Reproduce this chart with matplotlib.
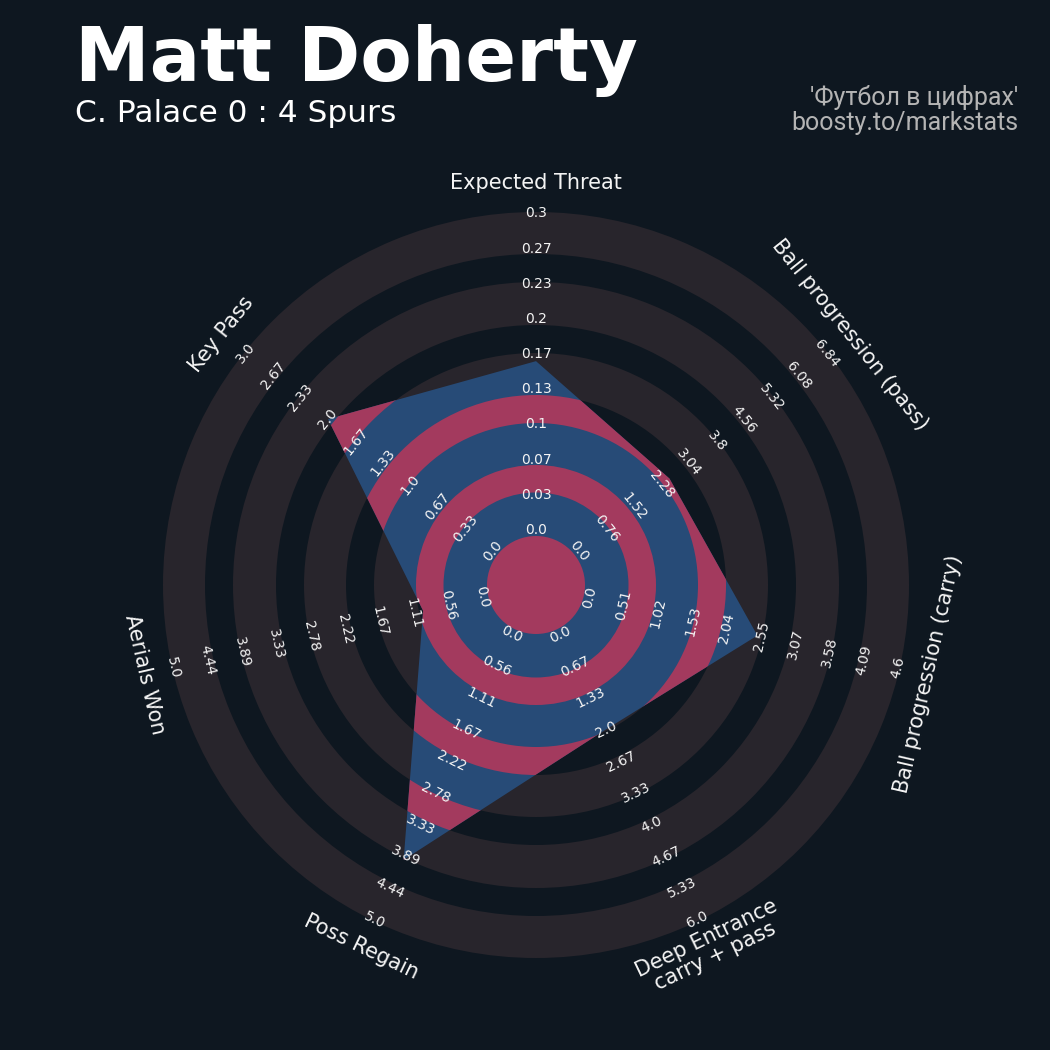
import numpy as np
import matplotlib.pyplot as plt
from matplotlib.patches import Circle, Wedge, Polygon

# params (clockwise from the top)
params = ['Expected Threat', 'Ball progression (pass)', 'Ball progression (carry)',
          'Deep Entrance\ncarry + pass', 'Poss Regain', 'Aerials Won', 'Key Pass']
values = [0.16, 2.5, 2.5, 2.0, 3.95, 0.96, 2.0]

range_labels = [
    ['0.0', '0.03', '0.07', '0.1', '0.13', '0.17', '0.2', '0.23', '0.27', '0.3'],
    ['0.0', '0.76', '1.52', '2.28', '3.04', '3.8', '4.56', '5.32', '6.08', '6.84'],
    ['0.0', '0.51', '1.02', '1.53', '2.04', '2.55', '3.07', '3.58', '4.09', '4.6'],
    ['0.0', '0.67', '1.33', '2.0', '2.67', '3.33', '4.0', '4.67', '5.33', '6.0'],
    ['0.0', '0.56', '1.11', '1.67', '2.22', '2.78', '3.33', '3.89', '4.44', '5.0'],
    ['0.0', '0.56', '1.11', '1.67', '2.22', '2.78', '3.33', '3.89', '4.44', '5.0'],
    ['0.0', '0.33', '0.67', '1.0', '1.33', '1.67', '2.0', '2.33', '2.67', '3.0'],
]
lows = [0, 0, 0, 0, 0, 0, 0]
highs = [0.3, 6.84, 4.6, 6.0, 5.0, 5.0, 3.0]

title = 'Matt Doherty'
subtitle = 'C. Palace 0 : 4 Spurs'
credit = "'Футбол в цифрах'\nboosty.to/markstats"

bg = '#0e1720'
ring_grey = '#28252c'
radar_blue = '#274b77'
ring_red = '#a33a5e'

# geometry (pixel units, y down)
cx, cy = 536, 585
r_first, r_last = 55, 371.6
bounds = [49, 92.5, 120, 162, 190, 232, 260, 303, 331, 373]

fig = plt.figure(figsize=(10.5, 10.5), dpi=100, facecolor=bg)
ax = fig.add_axes([0, 0, 1, 1])
ax.set_xlim(0, 1050)
ax.set_ylim(1050, 0)
ax.set_facecolor(bg)
ax.axis('off')

n = len(params)
angles = 90 - np.arange(n) * 360 / n

# grey rings outside
for i in range(0, len(bounds) - 1, 2):
    ax.add_patch(Wedge((cx, cy), bounds[i + 1], 0, 360, width=bounds[i + 1] - bounds[i],
                       facecolor=ring_grey, edgecolor='none', zorder=1))

# radar polygon
pts = []
for v, lo, hi, a in zip(values, lows, highs, angles):
    r = r_first + (v - lo) / (hi - lo) * (r_last - r_first)
    t = np.deg2rad(a)
    pts.append((cx + r * np.cos(t), cy - r * np.sin(t)))
radar = Polygon(pts, closed=True, facecolor=radar_blue, edgecolor='none', zorder=2)
ax.add_patch(radar)

# red rings clipped to the radar
inner = Circle((cx, cy), bounds[0], facecolor=ring_red, edgecolor='none', zorder=3)
ax.add_patch(inner)
inner.set_clip_path(radar)
for i in range(1, len(bounds) - 1, 2):
    w = Wedge((cx, cy), bounds[i + 1], 0, 360, width=bounds[i + 1] - bounds[i],
              facecolor=ring_red, edgecolor='none', zorder=3)
    ax.add_patch(w)
    w.set_clip_path(radar)


def text_rot(a):
    rot = (a - 90 + 180) % 360 - 180
    if rot > 90:
        rot -= 180
    elif rot < -90:
        rot += 180
    return rot


label_r = np.linspace(r_first, r_last, 10)
for labs, a in zip(range_labels, angles):
    t = np.deg2rad(a)
    for lab, r in zip(labs, label_r):
        ax.text(cx + r * np.cos(t), cy - r * np.sin(t), lab, color='#f4f4f4',
                fontsize=10, ha='center', va='center', rotation=text_rot(a),
                rotation_mode='anchor', zorder=5)

for p, a in zip(params, angles):
    t = np.deg2rad(a)
    r = 402
    ax.text(cx + r * np.cos(t), cy - r * np.sin(t), p, color='#f4f4f4',
            fontsize=15, ha='center', va='center', rotation=text_rot(a),
            rotation_mode='anchor', zorder=5, linespacing=1.0)

fig.text(75 / 1050, 1 - 81 / 1050, title, color='white', fontsize=54,
         fontweight='bold', ha='left', va='baseline')
fig.text(75 / 1050, 1 - 122 / 1050, subtitle, color='white', fontsize=22.5,
         ha='left', va='baseline')
fig.text(1018 / 1050, 1 - 110 / 1050, credit, color='#b4b4b4', fontsize=18,
         family='Roboto', ha='right', va='center', linespacing=1.1)

fig.savefig('out.png', dpi=100, facecolor=bg)
